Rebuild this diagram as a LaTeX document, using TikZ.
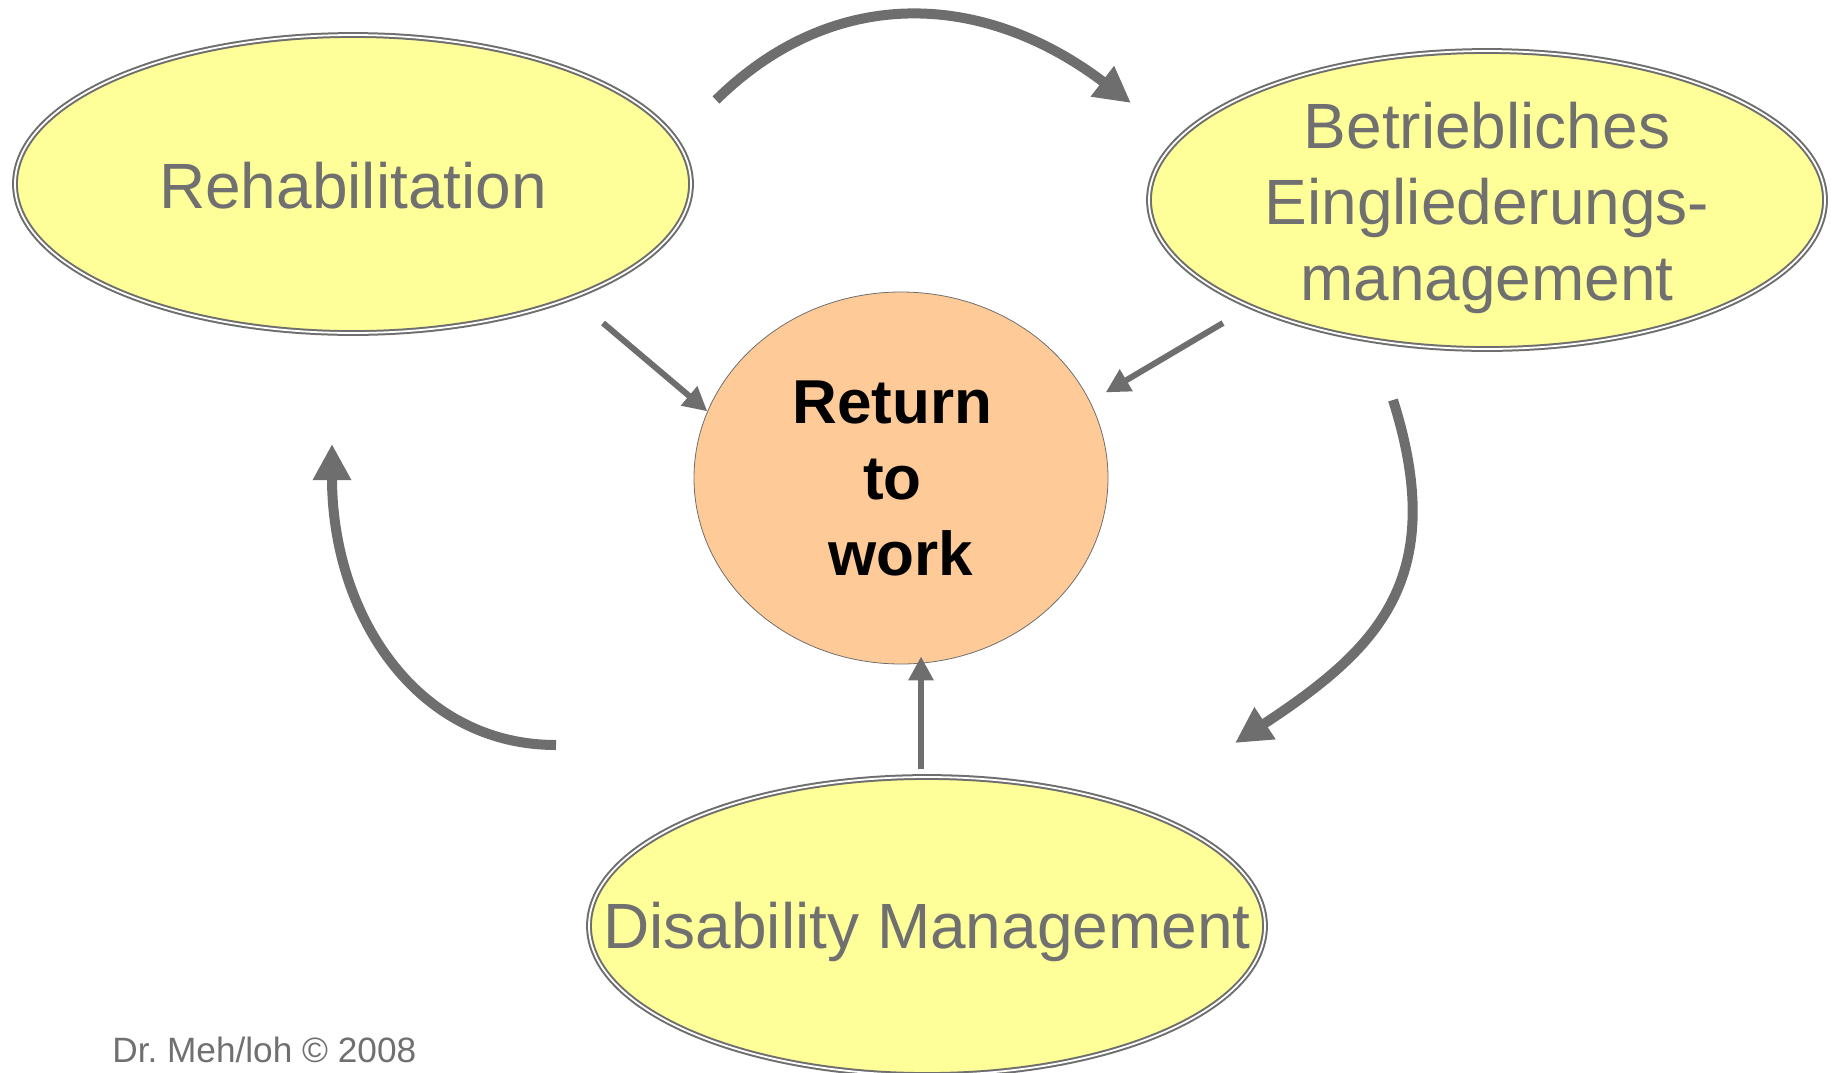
\documentclass[tikz,border=0pt]{standalone}
\usepackage{fontspec}
\setmainfont{Liberation Sans}
\usetikzlibrary{shapes,arrows.meta}
\definecolor{linegray}{RGB}{110,110,110}
\definecolor{textgray}{RGB}{112,112,112}
\definecolor{paleyellow}{RGB}{255,255,153}
\definecolor{peach}{RGB}{254,203,152}
\tikzstyle{topic}=[ellipse,fill=paleyellow,draw=linegray,double=white,line width=1pt,double distance=0.9pt,minimum width=338pt,minimum height=149pt,inner sep=0pt]
\tikzstyle{topictext}=[text=textgray,font=\fontsize{32}{38}\selectfont,align=center]
\tikzstyle{bigarrow}=[draw=linegray,line width=5pt,-{Triangle[length=18pt,width=18pt]}]
\tikzstyle{smallarrow}=[draw=linegray,line width=3pt,-{Triangle[length=12pt,width=12pt]}]

\begin{document}
\begin{tikzpicture}[x=0.5pt,y=-0.5pt]
    \clip (0,0) rectangle (1837,1072);
    \node[topic,label={[topictext,yshift=-1pt]center:Rehabilitation}] (rehab) at (353,184) {};
    \node[topic,label={[topictext,yshift=-4pt]center:Betriebliches\\Eingliederungs-\\management}] (bem) at (1487,200) {};
    \node[topic,label={[topictext,yshift=-3pt]center:Disability Management}] (dm) at (927,926) {};
    \node[ellipse,fill=peach,draw=linegray,line width=0.4pt,minimum width=207pt,minimum height=186pt,
          font=\bfseries\fontsize{31}{38}\selectfont,align=center] (rtw) at (901,478)
          {Return\rule{8.6pt}{0pt}\\to\rule{8.6pt}{0pt}\\work};

    \coordinate (topStart) at (716,100);
    \coordinate (topEnd) at (1131,103);
    \coordinate (rightStart) at (1393,400);
    \coordinate (rightEnd) at (1235,743);
    \coordinate (leftStart) at (556,745);
    \coordinate (leftEnd) at (332,444);
    \draw[bigarrow] (topStart) .. controls (835,-17) and (985,-8) .. (topEnd);
    \draw[bigarrow] (rightStart) .. controls (1450,580) and (1376,650) .. (rightEnd);
    \draw[bigarrow] (leftStart) .. controls (416,745) and (332,614) .. (leftEnd);

    \coordinate (fromRehab) at (603,323);
    \coordinate (fromBem) at (1223,323);
    \coordinate (fromDm) at (921,769);
    \draw[smallarrow] (fromRehab) -- (rtw.161);
    \draw[smallarrow,shorten >=9pt] (fromBem) -- (rtw.22);
    \draw[smallarrow,shorten >=-4pt] (fromDm) -- (fromDm |- rtw.south);

    \node[anchor=base west,inner sep=0pt,text=textgray,font=\fontsize{17.6}{20}\selectfont] (credit) at (112,1062) {Dr.\ Meh/loh © 2008};
\end{tikzpicture}
\end{document}
